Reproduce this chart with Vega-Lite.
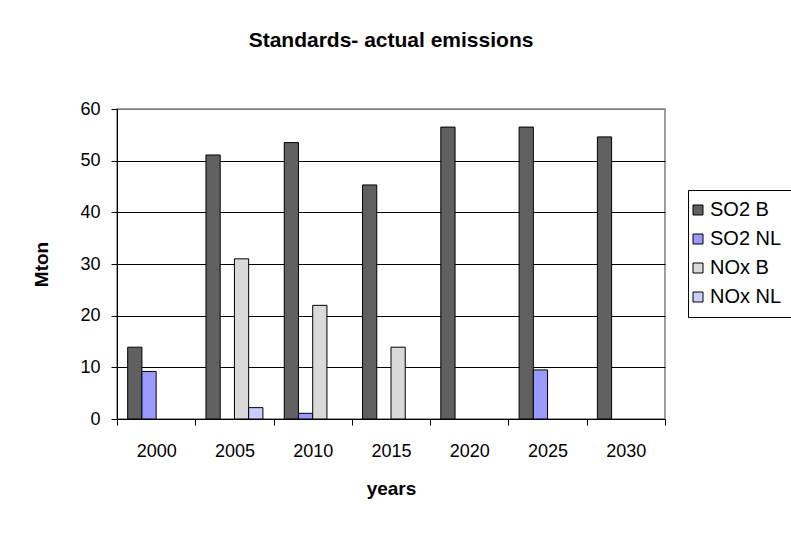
{
  "$schema": "https://vega.github.io/schema/vega-lite/v6.json",
  "width": 548,
  "height": 310,
  "autosize": {"type": "none"},
  "padding": {"left": 117, "top": 109, "right": 126, "bottom": 114},
  "background": "white",
  "title": {
    "text": "Standards- actual emissions",
    "font": "Liberation Sans",
    "fontSize": 21,
    "fontWeight": "bold",
    "color": "black",
    "anchor": "middle",
    "offset": 49
  },
  "data": {
    "values": [
      {"year": "2000", "series": "SO2 B", "value": 13.9},
      {"year": "2000", "series": "SO2 NL", "value": 9.2},
      {"year": "2005", "series": "SO2 B", "value": 51.1},
      {"year": "2005", "series": "NOx B", "value": 31.0},
      {"year": "2005", "series": "NOx NL", "value": 2.2},
      {"year": "2010", "series": "SO2 B", "value": 53.5},
      {"year": "2010", "series": "SO2 NL", "value": 1.1},
      {"year": "2010", "series": "NOx B", "value": 22.0},
      {"year": "2015", "series": "SO2 B", "value": 45.3},
      {"year": "2015", "series": "NOx B", "value": 13.9},
      {"year": "2020", "series": "SO2 B", "value": 56.5},
      {"year": "2025", "series": "SO2 B", "value": 56.5},
      {"year": "2025", "series": "SO2 NL", "value": 9.5},
      {"year": "2030", "series": "SO2 B", "value": 54.6}
    ]
  },
  "mark": {"type": "bar", "stroke": "black", "strokeWidth": 1},
  "encoding": {
    "x": {
      "field": "year",
      "type": "nominal",
      "scale": {"paddingInner": 0, "paddingOuter": 0},
      "axis": {
        "title": "years",
        "labelAngle": 0,
        "tickBand": "extent",
        "grid": false,
        "domainColor": "black",
        "tickColor": "black",
        "tickSize": 6,
        "labelPadding": 17,
        "labelFontSize": 18,
        "labelFont": "Liberation Sans",
        "labelColor": "black",
        "titleFont": "Liberation Sans",
        "titleFontSize": 19,
        "titleFontWeight": "bold",
        "titleColor": "black",
        "titlePadding": 19
      }
    },
    "xOffset": {
      "field": "series",
      "type": "nominal",
      "scale": {"domain": ["SO2 B", "SO2 NL", "NOx B", "NOx NL"], "paddingInner": 0, "paddingOuter": 0.75}
    },
    "y": {
      "field": "value",
      "type": "quantitative",
      "scale": {"domain": [0, 60], "nice": false},
      "axis": {
        "title": "Mton",
        "values": [0, 10, 20, 30, 40, 50, 60],
        "grid": true,
        "gridColor": {"condition": {"test": "datum.value == 60", "value": "#808080"}, "value": "black"},
        "gridOpacity": 1,
        "gridWidth": 1,
        "domainColor": "black",
        "tickColor": "black",
        "tickSize": 6,
        "labelPadding": 11,
        "labelFontSize": 18,
        "labelFont": "Liberation Sans",
        "labelColor": "black",
        "titleFont": "Liberation Sans",
        "titleFontSize": 19,
        "titleFontWeight": "bold",
        "titleColor": "black",
        "titlePadding": 28
      }
    },
    "color": {
      "field": "series",
      "type": "nominal",
      "scale": {
        "domain": ["SO2 B", "SO2 NL", "NOx B", "NOx NL"],
        "range": ["#606060", "#9999FF", "#D9D9D9", "#CCCCFF"]
      },
      "legend": {
        "title": null,
        "orient": "none",
        "legendX": 571,
        "legendY": 81,
        "strokeColor": "black",
        "fillColor": "white",
        "padding": 10,
        "symbolType": "square",
        "symbolSize": 100,
        "symbolOffset": -10,
        "symbolStrokeColor": "black",
        "symbolStrokeWidth": 1,
        "symbolOpacity": 1,
        "labelFont": "Liberation Sans",
        "labelFontSize": 20,
        "labelColor": "black",
        "rowPadding": 9,
        "labelOffset": 2
      }
    }
  },
  "config": {
    "view": {"stroke": "#808080", "strokeWidth": 1.5}
  }
}
